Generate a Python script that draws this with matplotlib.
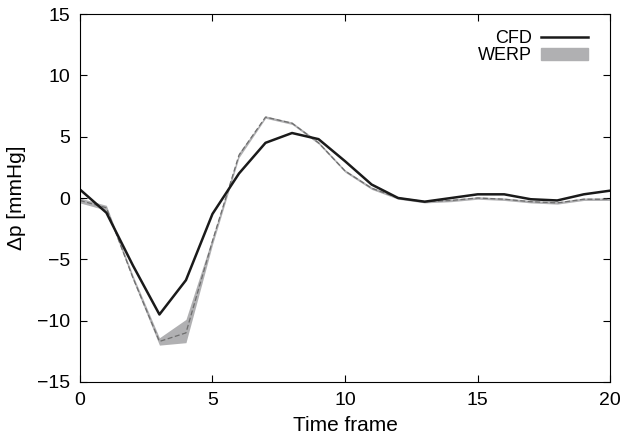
import matplotlib
matplotlib.use("Agg")
import matplotlib.pyplot as plt
from matplotlib.patches import Patch

plt.rcParams['font.family'] = ['Liberation Sans', 'DejaVu Sans']

frames = list(range(21))
cfd = [0.7, -1.2, -5.5, -9.5, -6.7, -1.3, 2.0, 4.5, 5.3, 4.8, 3.0, 1.1,
       0.0, -0.3, 0.0, 0.3, 0.3, -0.1, -0.2, 0.3, 0.6]
werp = [-0.2, -0.8, -6.5, -11.7, -11.0, -3.5, 3.5, 6.6, 6.1, 4.5, 2.2, 0.8,
        0.0, -0.3, -0.2, 0.0, -0.1, -0.3, -0.4, -0.1, -0.1]
werp_lo = [-0.4, -1.0, -6.7, -12.0, -11.8, -3.8, 3.3, 6.5, 6.0, 4.4, 2.1, 0.7,
           -0.1, -0.4, -0.3, -0.1, -0.2, -0.4, -0.5, -0.2, -0.2]
werp_hi = [0.0, -0.6, -6.3, -11.4, -9.9, -3.2, 3.7, 6.7, 6.2, 4.6, 2.3, 0.9,
           0.1, -0.2, -0.1, 0.1, 0.0, -0.2, -0.3, 0.0, 0.0]

fig = plt.figure(figsize=(6.24, 4.4), dpi=100)
ax = fig.add_axes([0.128, 0.132, 0.85, 0.836])

ax.fill_between(frames, werp_lo, werp_hi, color="#b0b0b2", lw=0)
ax.plot(frames, werp, color="#6e6e6e", lw=0.9, ls=(0, (4, 2)))
cfd_line, = ax.plot(frames, cfd, color="#1a1a1a", lw=1.8)

ax.set_xlim(0, 20)
ax.set_ylim(-15, 15)
ax.set_xticks([0, 5, 10, 15, 20])
ax.set_yticks([-15, -10, -5, 0, 5, 10, 15])
ax.tick_params(direction="in", top=True, right=True, labelsize=14, length=5, pad=7)
ax.set_xlabel("Time frame", fontsize=15, labelpad=5)
ax.set_ylabel("\u0394p [mmHg]", fontsize=15, labelpad=8)

ax.legend([cfd_line, Patch(color="#b0b0b2")], ["CFD", "WERP"], loc="upper right",
          frameon=False, markerfirst=False, fontsize=13, handlelength=2.6,
          handletextpad=0.5, labelspacing=0.0, borderaxespad=0.4,
          bbox_to_anchor=(0.985, 0.995))

fig.savefig("out.png", dpi=100)
